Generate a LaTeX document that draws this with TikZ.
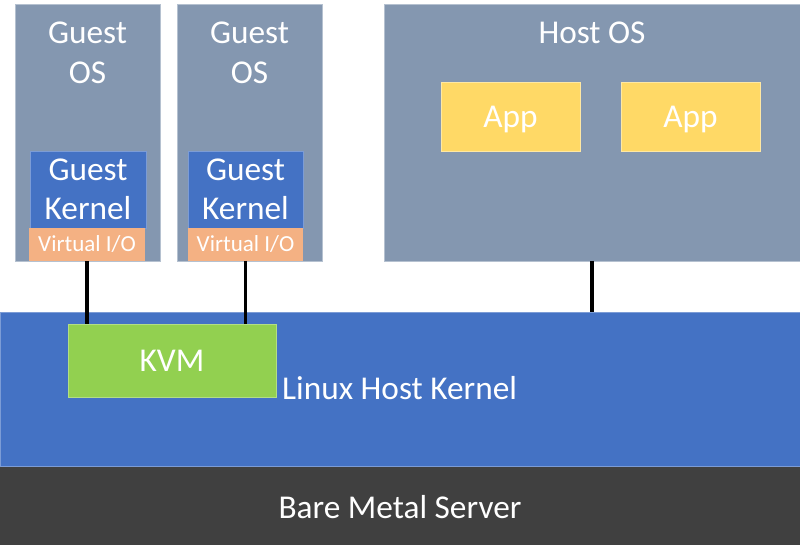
\documentclass[tikz,border=0pt]{standalone}
\usepackage{fontspec}
\setmainfont{Carlito}
\usepackage{tikz}
\usetikzlibrary{positioning}
\definecolor{osgray}{RGB}{132,151,176}
\definecolor{kernblue}{RGB}{68,114,196}
\definecolor{vioorange}{RGB}{244,177,131}
\definecolor{appyellow}{RGB}{255,217,102}
\definecolor{kvmgreen}{RGB}{146,208,80}
\definecolor{metalgray}{RGB}{64,64,64}

\begin{document}
\begin{tikzpicture}[x=1pt,y=1pt, every node/.style={text=white,font=\fontsize{33.3}{39.5}\selectfont}]
    \tikzset{osbox/.style={fill=osgray,draw=osgray!60!white,line width=0.8pt,inner sep=0pt,outer sep=0pt}}
    \tikzset{gkern/.style={fill=kernblue,draw=kernblue!70!white,line width=0.6pt,inner sep=0pt,outer sep=0pt,align=center,minimum height=77pt}}
    \tikzset{vio/.style={fill=vioorange,inner sep=0pt,outer sep=0pt,minimum height=33pt,font=\fontsize{23}{27}\selectfont}}
    \tikzset{app/.style={fill=appyellow,draw=appyellow!60!white,line width=0.6pt,inner sep=0pt,text depth=0pt,minimum width=139pt,minimum height=69pt}}
    \tikzset{link/.style={line width=3.4pt,black}}
    \useasboundingbox (0,0) rectangle (800,545);

    % Layers
    \node[fill=metalgray,inner sep=0pt,outer sep=0pt,minimum width=800pt,minimum height=79pt] (metal) at (400,38) {Bare Metal Server};
    \node[fill=kernblue,draw=kernblue!70!white,line width=0.6pt,inner sep=0pt,outer sep=0pt,minimum width=800pt,minimum height=154pt] (kern) at (400,156) {};
    \node[anchor=west,inner sep=0pt] (kerntxt) at (282,157) {Linux Host Kernel};
    \node[fill=kvmgreen,draw=kvmgreen!70!white,line width=0.6pt,inner sep=0pt,outer sep=0pt,minimum width=208pt,minimum height=73pt] (kvm) at (172,184.5) {KVM};

    % Guests
    \node[osbox,minimum width=145pt,minimum height=257pt] (guest1) at (87.5,412.5) {};
    \node[align=center] (guest1txt) at (87.5,492) {Guest\\OS};
    \node[gkern,minimum width=116pt] (gk1) at (88,355.5) {Guest\\Kernel};
    \node[vio,minimum width=116pt] (vio1) at (87,300.5) {Virtual I/O};

    \node[osbox,minimum width=145pt,minimum height=257pt] (guest2) at (249.5,412.5) {};
    \node[align=center] (guest2txt) at (249.5,492) {Guest\\OS};
    \node[gkern,minimum width=115pt] (gk2) at (245.5,355.5) {Guest\\Kernel};
    \node[vio,minimum width=115pt] (vio2) at (245.5,300.5) {Virtual I/O};

    % Host
    \node[osbox,minimum width=416pt,minimum height=257pt] (host) at (592,412.5) {};
    \node (hosttxt) at (592,512) {Host OS};
    \node[app] (app1) at (510.5,428.5) {App};
    \node[app] (app2) at (690.5,428.5) {App};

    % Links
    \draw[link] (vio1.south) -- (vio1.south |- kvm.north);
    \draw[link] (vio2.south) -- (vio2.south |- kvm.north);
    \draw[link] (host.south) -- (host.south |- kern.north);
\end{tikzpicture}
\end{document}
